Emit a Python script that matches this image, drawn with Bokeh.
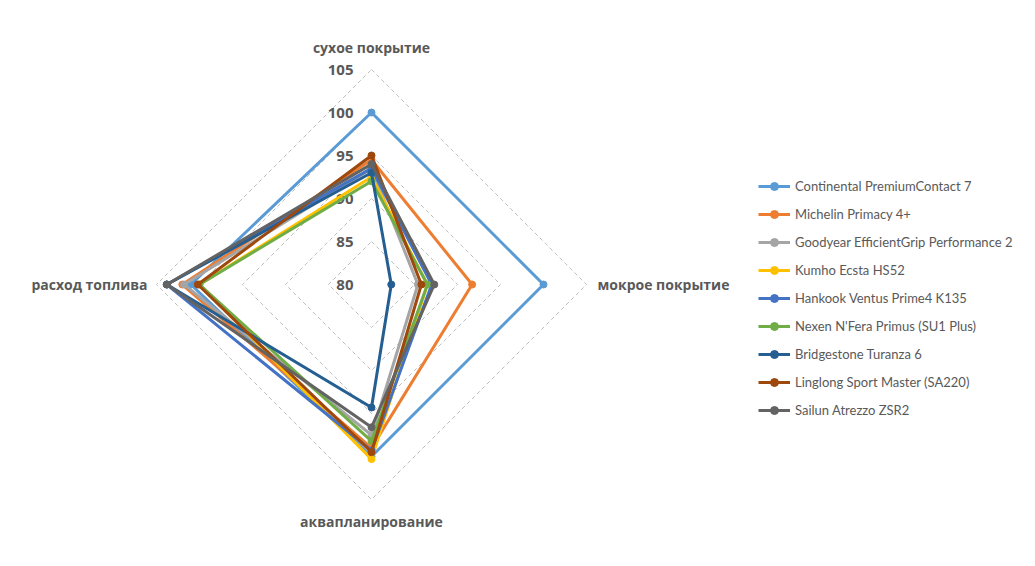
import numpy as np
from bokeh.plotting import figure
from bokeh.models import Legend, LegendItem
from bokeh.core.properties import value
from bokeh.embed import file_html
from bokeh.resources import INLINE

axes_labels = ["сухое покрытие", "мокрое покрытие", "аквапланирование", "расход топлива"]
ticks = [80, 85, 90, 95, 100, 105]
series_names = [
    "Continental PremiumContact 7",
    "Michelin Primacy 4+",
    "Goodyear EfficientGrip Performance 2",
    "Kumho Ecsta HS52",
    "Hankook Ventus Prime4 K135",
    "Nexen N'Fera Primus (SU1 Plus)",
    "Bridgestone Turanza 6",
    "Linglong Sport Master (SA220)",
    "Sailun Atrezzo ZSR2",
]
# order: dry, wet, aquaplaning, fuel
continental = [100, 100, 100, 101]
michelin = [94.5, 91.7, 99, 102]
goodyear = [93.5, 85.4, 97.5, 101.8]
kumho = [92.5, 86.5, 100.3, 100]
hankook = [93.5, 87, 99.3, 103.8]
nexen = [92, 86.5, 98.2, 100]
bridgestone = [93, 82.3, 94.3, 103.8]
linglong = [95, 85.8, 99.5, 100.2]
sailun = [94, 87.3, 96.6, 103.8]
series_values = [continental, michelin, goodyear, kumho, hankook, nexen, bridgestone, linglong, sailun]
colors = ["#5B9BD5", "#ED7D31", "#A5A5A5", "#FFC000", "#4472C4", "#70AD47", "#255E91", "#9E480E", "#636363"]

rmin, rmax = 80, 105
angles = np.pi / 2 - np.arange(4) * np.pi / 2  # top, right, bottom, left

def to_xy(vals):
    r = np.asarray(vals, dtype=float) - rmin
    return r * np.cos(angles), r * np.sin(angles)

W, H = 1019, 550
scale = 8.6
cx, cy = 371, 284
p = figure(width=W, height=H, output_backend="svg", toolbar_location=None,
           x_range=(-cx / scale, (W - cx) / scale), y_range=(-(H - cy) / scale, cy / scale),
           min_border=0, outline_line_color=None)
p.axis.visible = False
p.grid.visible = False
p.background_fill_color = "white"

# grid diamonds
for t in ticks[1:]:
    gx, gy = to_xy([t] * 4)
    p.line(np.append(gx, gx[0]), np.append(gy, gy[0]), line_color="#BFBFBF",
           line_width=1, line_dash="4 3")

# tick labels along the top axis
ty = [t - rmin for t in ticks]
p.text(x=[0] * len(ticks), y=ty, text=[str(t) for t in ticks],
       text_align="right", text_baseline="middle", x_offset=-18,
       text_font=value("Open Sans"), text_font_style="bold",
       text_font_size="15px", text_color="#595959")

# axis labels
ox, oy = to_xy([rmax] * 4)
lab_kw = dict(text_font=value("Open Sans"), text_font_style="bold",
              text_font_size="14px", text_color="#595959", text_baseline="middle")
p.text(x=[ox[0]], y=[oy[0]], text=[axes_labels[0]], text_align="center", y_offset=-22, **lab_kw)
p.text(x=[ox[1]], y=[oy[1]], text=[axes_labels[1]], text_align="left", x_offset=11, **lab_kw)
p.text(x=[ox[2]], y=[oy[2]], text=[axes_labels[2]], text_align="center", y_offset=22, **lab_kw)
p.text(x=[ox[3]], y=[oy[3]], text=[axes_labels[3]], text_align="right", x_offset=-9, **lab_kw)

items = []
for name, vals, col in zip(series_names, series_values, colors):
    x, y = to_xy(vals)
    lr = p.line(np.append(x, x[0]), np.append(y, y[0]), line_color=col, line_width=3)
    cr = p.scatter(x, y, size=7, fill_color=col, line_color=col)
    items.append(LegendItem(label=name, renderers=[lr, cr]))

legend = Legend(items=items, location=(758, 130), border_line_color=None,
                background_fill_alpha=0, label_text_font="Lato",
                label_text_font_size="13px", label_text_color="#595959",
                glyph_width=32, glyph_height=20, label_height=20, spacing=8,
                padding=0, margin=0, label_standoff=5)
p.add_layout(legend)

open("out.html", "w").write(file_html(p, INLINE))
